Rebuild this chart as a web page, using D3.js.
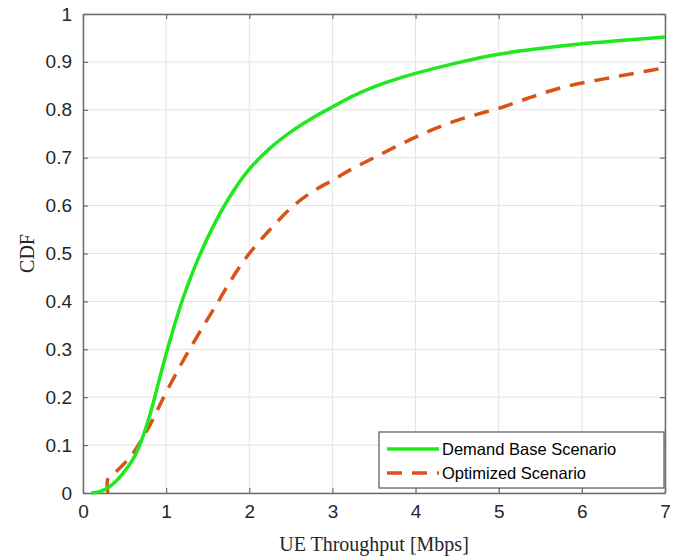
<!DOCTYPE html>
<html>
<head>
<meta charset="utf-8">
<script src="https://cdn.jsdelivr.net/npm/d3@7"></script>
<style>
  body { margin: 0; background: #fff; }
</style>
</head>
<body>
<script>
// throughput (Mbps) and CDF values
const demandX = [0.1, 0.2, 0.3, 0.4, 0.5, 0.6, 0.7, 0.8, 0.9, 1.0, 1.1, 1.2, 1.4, 1.6, 1.8, 2.0, 2.25, 2.5, 2.75, 3.0, 3.25, 3.5, 3.75, 4.0, 4.5, 5.0, 5.5, 6.0, 6.5, 7.0]
const demandY = [0, 0.003, 0.011, 0.025, 0.045, 0.07, 0.108, 0.16, 0.225, 0.29, 0.35, 0.405, 0.495, 0.568, 0.628, 0.676, 0.72, 0.754, 0.782, 0.806, 0.829, 0.848, 0.863, 0.876, 0.898, 0.916, 0.928, 0.938, 0.945, 0.952]
const optX = [0.3, 0.3, 0.4, 0.5, 0.6, 0.7, 0.8, 0.9, 1.0, 1.2, 1.4, 1.6, 1.8, 2.0, 2.25, 2.5, 2.75, 3.0, 3.25, 3.5, 3.75, 4.0, 4.25, 4.5, 4.75, 5.0, 5.25, 5.5, 5.75, 6.0, 6.25, 6.5, 6.75, 7.0]
const optY = [0, 0.03, 0.045, 0.062, 0.082, 0.11, 0.14, 0.175, 0.21, 0.275, 0.335, 0.392, 0.45, 0.5, 0.55, 0.595, 0.628, 0.653, 0.678, 0.70, 0.722, 0.743, 0.762, 0.778, 0.791, 0.803, 0.818, 0.833, 0.846, 0.856, 0.864, 0.872, 0.88, 0.888]
const xTicks = [0, 1, 2, 3, 4, 5, 6, 7]
const yTicks = [0, 0.1, 0.2, 0.3, 0.4, 0.5, 0.6, 0.7, 0.8, 0.9, 1]
const seriesNames = ['Demand Base Scenario', 'Optimized Scenario']

const w = 683
const h = 557
const padL = 83, padR = 665, padT = 14, padB = 493

const svg = d3.select('body')
  .append('svg')
  .attr('width', w)
  .attr('height', h)

const xScale = d3.scaleLinear().domain([0, 7]).range([padL, padR])
const yScale = d3.scaleLinear().domain([0, 1]).range([padB, padT])

// grid
svg.append('g')
  .selectAll('line')
  .data(xTicks)
  .enter()
  .append('line')
  .attr('x1', d => xScale(d)).attr('x2', d => xScale(d))
  .attr('y1', padT).attr('y2', padB)
  .attr('stroke', '#e3e3e3')
svg.append('g')
  .selectAll('line')
  .data(yTicks)
  .enter()
  .append('line')
  .attr('x1', padL).attr('x2', padR)
  .attr('y1', d => yScale(d)).attr('y2', d => yScale(d))
  .attr('stroke', '#e3e3e3')

// axes
const xAxis = d3.axisBottom(xScale).tickValues(xTicks).tickSize(-5).tickSizeOuter(0).tickPadding(12)
  .tickFormat(d3.format('d'))
const yAxis = d3.axisLeft(yScale).tickValues(yTicks).tickSize(-5).tickSizeOuter(0).tickPadding(11)
  .tickFormat(d => d === 0 || d === 1 ? String(d) : d3.format('.1f')(d))
const xTop = d3.axisTop(xScale).tickValues(xTicks).tickSize(-5).tickSizeOuter(0).tickFormat('')
const yRight = d3.axisRight(yScale).tickValues(yTicks).tickSize(-5).tickSizeOuter(0).tickFormat('')

function styleAxis(g) {
  g.select('.domain').attr('stroke', '#6e6e6e').attr('stroke-width', 1.5)
  g.selectAll('.tick line').attr('stroke', '#6e6e6e').attr('stroke-width', 1.2)
  g.selectAll('.tick text')
    .attr('fill', '#262626')
    .attr('font-family', 'Liberation Sans, Arial, sans-serif')
    .attr('font-size', 19)
}

svg.append('g').attr('transform', 'translate(0,' + padB + ')').call(xAxis).call(styleAxis)
svg.append('g').attr('transform', 'translate(' + padL + ',0)').call(yAxis).call(styleAxis)
svg.append('g').attr('transform', 'translate(0,' + padT + ')').call(xTop).call(styleAxis)
svg.append('g').attr('transform', 'translate(' + padR + ',0)').call(yRight).call(styleAxis)

// curves
const curveLine = d3.line().x(d => xScale(d[0])).y(d => yScale(d[1])).curve(d3.curveCatmullRom.alpha(0.5))

const demand = demandX.map((x, i) => [x, demandY[i]])
const opt = optX.map((x, i) => [x, optY[i]])

svg.append('path')
  .datum(opt)
  .attr('d', curveLine)
  .attr('fill', 'none')
  .attr('stroke', '#d95319')
  .attr('stroke-width', 3.5)
  .attr('stroke-dasharray', '15,10')

svg.append('path')
  .datum(demand)
  .attr('d', curveLine)
  .attr('fill', 'none')
  .attr('stroke', '#1fe81f')
  .attr('stroke-width', 3.5)

// axis labels
svg.append('text')
  .attr('x', (padL + padR) / 2)
  .attr('y', 551)
  .attr('text-anchor', 'middle')
  .attr('font-family', 'Liberation Serif, Times New Roman, serif')
  .attr('font-size', 20)
  .attr('fill', '#262626')
  .text('UE Throughput [Mbps]')
svg.append('text')
  .attr('transform', 'translate(34,' + ((padT + padB) / 2) + ') rotate(-90)')
  .attr('text-anchor', 'middle')
  .attr('font-family', 'Liberation Serif, Times New Roman, serif')
  .attr('font-size', 20)
  .attr('fill', '#262626')
  .text('CDF')

// legend
const lg = svg.append('g').attr('transform', 'translate(379,432)')
lg.append('rect')
  .attr('width', 285).attr('height', 56)
  .attr('fill', '#fff')
  .attr('stroke', '#555').attr('stroke-width', 1.2)
const colors = ['#1fe81f', '#d95319']
const dashes = [null, '15,10']
seriesNames.forEach((name, i) => {
  const yy = 17 + i * 24
  lg.append('line')
    .attr('x1', 8).attr('x2', 60)
    .attr('y1', yy).attr('y2', yy)
    .attr('stroke', colors[i])
    .attr('stroke-width', 3.5)
    .attr('stroke-dasharray', dashes[i])
  lg.append('text')
    .attr('x', 63).attr('y', yy + 6)
    .attr('font-family', 'Liberation Sans, Arial, sans-serif')
    .attr('font-size', 16.5)
    .attr('fill', '#000')
    .text(name)
})
</script>
</body>
</html>
